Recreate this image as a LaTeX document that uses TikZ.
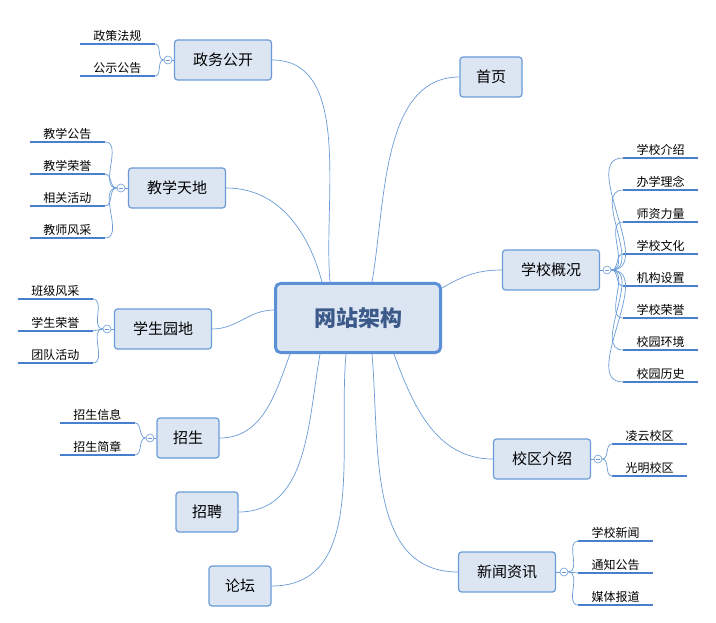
\documentclass[tikz,border=0pt]{standalone}
\usepackage{fontspec}
\newfontfamily\cjk{Noto Sans CJK SC}
\definecolor{bfill}{HTML}{DCE6F2}
\definecolor{bdraw}{HTML}{6A9BD8}
\definecolor{cdraw}{HTML}{5B8FD6}
\definecolor{ctext}{HTML}{3B5A8A}
\definecolor{lline}{HTML}{4A7FD0}
\definecolor{conn}{HTML}{6A9BD8}
\tikzset{
 x=1pt,y=-1pt,
 topic/.style={draw=bdraw,fill=bfill,rounded corners=3pt,line width=1.2pt,minimum width=97pt,minimum height=40pt,font=\cjk\fontsize{15}{15}\selectfont,text=black},
 stopic/.style={topic,minimum width=62pt},
 leaf/.style={font=\cjk\fontsize{12}{12}\selectfont,minimum width=75pt,minimum height=16pt,inner sep=1pt},
 uline/.style={draw=lline,line width=2pt},
 conn/.style={draw=conn,line width=0.7pt},
 coll/.style={circle,draw=bdraw,fill=white,minimum size=8pt,inner sep=0pt,line width=0.6pt},
}
\newcommand{\collapse}[1]{\draw[bdraw,line width=0.6pt] ([xshift=-2pt]#1.center) -- ([xshift=2pt]#1.center);}
\begin{document}
\begin{tikzpicture}
\path[use as bounding box] (0,0) rectangle (716,623);
\node[draw=cdraw,fill=bfill,rounded corners=5pt,line width=3pt,minimum width=165pt,minimum height=69pt,font=\cjk\bfseries\fontsize{22}{22}\selectfont,text=ctext] (c) at (358,318) {网站架构};
\node[topic] (zw) at (223,60) {政务公开};
\node[stopic] (sy) at (491,77) {首页};
\node[topic] (jx) at (177,188) {教学天地};
\node[topic] (xg) at (551,270) {学校概况};
\node[topic] (xs) at (163,329) {学生园地};
\node[stopic] (zs) at (188,438) {招生};
\node[topic] (xq) at (542,459) {校区介绍};
\node[stopic] (zp) at (207,512) {招聘};
\node[topic] (xw) at (507,572) {新闻资讯};
\node[stopic] (lt) at (240,586) {论坛};
% main connectors
\draw[conn] ([xshift=-28pt]c.north) to[out=95,in=0,looseness=0.9] (zw.east);
\draw[conn] ([xshift=14pt]c.north) to[out=80,in=180,looseness=0.9] (sy.west);
\draw[conn] ([xshift=-36pt]c.north) to[out=105,in=0] (jx.east);
\draw[conn] ([yshift=-6pt]c.north east) to[out=30,in=180] (xg.west);
\draw[conn] ([yshift=8pt]c.west) to[out=180,in=0] (xs.east);
\draw[conn] ([xshift=-68pt]c.south) to[out=-110,in=0] (zs.east);
\draw[conn] ([xshift=36pt]c.south) to[out=-70,in=180] (xq.west);
\draw[conn] ([xshift=-38pt]c.south) to[out=-100,in=0] (zp.east);
\draw[conn] ([xshift=14pt]c.south) to[out=-85,in=180] (xw.west);
\draw[conn] ([xshift=-12pt]c.south) to[out=-95,in=0] (lt.east);
% leaves helper
\newcommand{\leafL}[4]{% name, x(right end), y line, text
 \node[leaf,anchor=south east] (#1) at (#2,#3) {#4};
 \draw[uline] (#1.south west) -- (#1.south east);}
% 政务公开
\node[coll] (k1) at (168,60) {}; \collapse{k1}
\draw[conn] (zw.west) -- (k1);
\leafL{a1}{155}{44}{政策法规}
\leafL{a2}{155}{76}{公示公告}
\foreach \n in {a1,a2} \draw[conn] (k1.west) to[out=180,in=0] (\n.south east);
% 教学天地
\node[coll] (k2) at (121,188) {}; \collapse{k2}
\draw[conn] (jx.west) -- (k2);
\leafL{b1}{105}{142}{教学公告}
\leafL{b2}{105}{174}{教学荣誉}
\leafL{b3}{105}{206}{相关活动}
\leafL{b4}{105}{238}{教师风采}
\foreach \n in {b1,b2,b3,b4} \draw[conn] (k2.west) to[out=180,in=0] (\n.south east);
% 学生园地
\node[coll] (k3) at (107,329) {}; \collapse{k3}
\draw[conn] (xs.west) -- (k3);
\leafL{d1}{93}{299}{班级风采}
\leafL{d2}{93}{331}{学生荣誉}
\leafL{d3}{93}{363}{团队活动}
\foreach \n in {d1,d2,d3} \draw[conn] (k3.west) to[out=180,in=0] (\n.south east);
% 招生
\node[coll] (k4) at (150,438) {}; \collapse{k4}
\draw[conn] (zs.west) -- (k4);
\leafL{e1}{135}{423}{招生信息}
\leafL{e2}{135}{455}{招生简章}
\foreach \n in {e1,e2} \draw[conn] (k4.west) to[out=180,in=0] (\n.south east);
% right leaves
\newcommand{\leafR}[4]{%
 \node[leaf,anchor=south west] (#1) at (#2,#3) {#4};
 \draw[uline] (#1.south west) -- (#1.south east);}
\node[coll] (k5) at (607,270) {}; \collapse{k5}
\draw[conn] (xg.east) -- (k5);
\leafR{f1}{623}{158}{学校介绍}
\leafR{f2}{623}{190}{办学理念}
\leafR{f3}{623}{222}{师资力量}
\leafR{f4}{623}{254}{学校文化}
\leafR{f5}{623}{286}{机构设置}
\leafR{f6}{623}{318}{学校荣誉}
\leafR{f7}{623}{350}{校园环境}
\leafR{f8}{623}{382}{校园历史}
\foreach \n in {f1,f2,f3,f4,f5,f6,f7,f8} \draw[conn] (k5.east) to[out=0,in=180] (\n.south west);
\node[coll] (k6) at (598,459) {}; \collapse{k6}
\draw[conn] (xq.east) -- (k6);
\leafR{g1}{612}{444}{凌云校区}
\leafR{g2}{612}{476}{光明校区}
\foreach \n in {g1,g2} \draw[conn] (k6.east) to[out=0,in=180] (\n.south west);
\node[coll] (k7) at (564,572) {}; \collapse{k7}
\draw[conn] (xw.east) -- (k7);
\leafR{h1}{578}{541}{学校新闻}
\leafR{h2}{578}{573}{通知公告}
\leafR{h3}{578}{605}{媒体报道}
\foreach \n in {h1,h2,h3} \draw[conn] (k7.east) to[out=0,in=180] (\n.south west);
\end{tikzpicture}
\end{document}
